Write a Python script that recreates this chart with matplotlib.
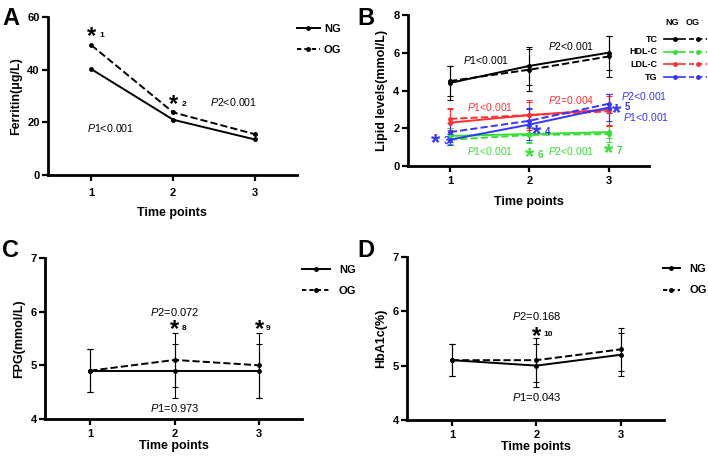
import numpy as np
import matplotlib.pyplot as plt
from matplotlib.lines import Line2D

plt.rcParams['font.family'] = ['Liberation Sans', 'DejaVu Sans']
plt.rcParams['mathtext.fontset'] = 'custom'
plt.rcParams['mathtext.rm'] = 'Liberation Sans'
plt.rcParams['mathtext.it'] = 'Liberation Sans:italic'

time_points = [1, 2, 3]

# A: ferritin
ferritin_ng = [40.2, 21.0, 13.5]
ferritin_og = [49.3, 23.8, 15.5]

# B: lipids (mean, sd)
tc_ng = [4.4, 5.3, 6.0]
tc_og = [4.5, 5.1, 5.8]
tc_ng_sd = [0.9, 1.0, 0.9]
tc_og_sd = [0.8, 1.1, 1.1]
hdl_ng = [1.6, 1.7, 1.8]
hdl_og = [1.4, 1.65, 1.7]
hdl_ng_sd = [0.4, 0.4, 0.3]
hdl_og_sd = [0.3, 0.4, 0.4]
ldl_ng = [2.3, 2.7, 3.0]
ldl_og = [2.5, 2.7, 2.9]
ldl_ng_sd = [0.7, 0.8, 0.8]
ldl_og_sd = [0.6, 0.7, 0.8]
tg_ng = [1.4, 2.2, 3.1]
tg_og = [1.8, 2.4, 3.3]
tg_ng_sd = [0.3, 0.8, 0.7]
tg_og_sd = [0.5, 0.7, 0.5]

# C: FPG
fpg_ng = [4.9, 4.9, 4.9]
fpg_og = [4.9, 5.1, 5.0]
fpg_ng_sd = [0.4, 0.5, 0.5]
fpg_og_sd = [0.4, 0.5, 0.6]

# D: HbA1c
hba_ng = [5.1, 5.0, 5.2]
hba_og = [5.1, 5.1, 5.3]
hba_ng_sd = [0.3, 0.4, 0.4]
hba_og_sd = [0.3, 0.4, 0.4]

GREEN = '#33e033'
RED = '#ff3030'
BLUE = '#3535ff'

fig = plt.figure(figsize=(7.08, 4.63), dpi=100)
axA = fig.add_axes([0.068, 0.622, 0.351, 0.341])
axB = fig.add_axes([0.576, 0.641, 0.341, 0.327])
axC = fig.add_axes([0.064, 0.095, 0.363, 0.348])
axD = fig.add_axes([0.575, 0.093, 0.363, 0.352])


def style(ax, ylim, yticks, ylabel, xpad=3, labelpad=4):
    ax.set_xlim(0.47, 3.51)
    ax.set_ylim(*ylim)
    ax.set_xticks(time_points)
    ax.set_yticks(yticks)
    for s in ['top', 'right']:
        ax.spines[s].set_visible(False)
    for s in ['left', 'bottom']:
        ax.spines[s].set_linewidth(2)
    ax.tick_params(width=1.6, length=4, labelsize=8, pad=2)
    ax.tick_params(axis='x', pad=xpad)
    for lab in ax.get_xticklabels() + ax.get_yticklabels():
        lab.set_fontweight('bold')
    ax.set_xlabel('Time points', fontsize=9, fontweight='bold', labelpad=labelpad)
    ax.set_ylabel(ylabel, fontsize=9, fontweight='bold', labelpad=4)


def star(ax, x, y, num, color='black', dx=6, dy=-5, size=6):
    ax.annotate('*', xy=(x, y), xytext=(0, -9), textcoords='offset points',
                ha='center', va='baseline', fontsize=17, fontweight='bold', color=color)
    ax.annotate(num, xy=(x, y), xytext=(dx, dy), textcoords='offset points',
                ha='left', va='baseline', fontsize=size, fontweight='bold', color=color)


def pair(ax, ng, og, color='black', ng_sd=None, og_sd=None):
    kw = dict(color=color, marker='o', markersize=2.5, lw=1.4)
    if ng_sd is None:
        ax.plot(time_points, ng, ls='-', **kw)
        ax.plot(time_points, og, ls='--', **kw)
        return
    ekw = dict(capsize=2.5, elinewidth=0.8, capthick=0.8, ecolor=color)
    ax.errorbar(time_points, ng, yerr=ng_sd, ls='-', **kw, **ekw)
    e2 = ax.errorbar(time_points, og, yerr=og_sd, **kw, **ekw)
    e2.lines[0].set_linestyle('--')


def legend(ax, x, y, hl=2.3, tp=0.6):
    handles = [Line2D([], [], color='black', lw=1.4, marker='o', markersize=2.5),
               Line2D([], [], color='black', lw=1.4, marker='o', markersize=2.5,
                      ls=(0, (2.2, 1.6)))]
    ax.legend(handles, ['NG', 'OG'], loc='upper left', bbox_to_anchor=(x, y),
              frameon=False, prop={'weight': 'bold', 'size': 8}, handlelength=hl,
              handletextpad=tp, labelspacing=1.0, borderaxespad=0, borderpad=0)


# ---- A
pair(axA, ferritin_ng, ferritin_og)
style(axA, (0, 60), [0, 20, 40, 60], 'Ferritin(μg/L)', xpad=5, labelpad=7)
legend(axA, 1.0, 0.955, hl=2.1, tp=0.35)
star(axA, 1, 55, '1')
star(axA, 2, 29, '2')
axA.text(0.94, 17.8, r'$P$1<0.001', fontsize=7.7, va='center')
axA.text(2.45, 27.7, r'$P$2<0.001', fontsize=7.7, va='center')

# ---- B
series = [('TC', tc_ng, tc_og, tc_ng_sd, tc_og_sd, 'black'),
          ('HDL-C', hdl_ng, hdl_og, hdl_ng_sd, hdl_og_sd, GREEN),
          ('LDL-C', ldl_ng, ldl_og, ldl_ng_sd, ldl_og_sd, RED),
          ('TG', tg_ng, tg_og, tg_ng_sd, tg_og_sd, BLUE)]
for name, ng, og, nsd, osd, col in series:
    pair(axB, ng, og, col, nsd, osd)
style(axB, (0, 8), [0, 2, 4, 6, 8], 'Lipid levels(mmol/L)', xpad=3, labelpad=7)

# custom legend grid for B
axB.text(1.095, 0.93, 'NG', transform=axB.transAxes, fontsize=6.5, fontweight='bold', ha='center')
axB.text(1.178, 0.93, 'OG', transform=axB.transAxes, fontsize=6.5, fontweight='bold', ha='center')
for i, (name, ng, og, nsd, osd, col) in enumerate(series):
    yy = 0.84 - i * 0.084
    axB.text(1.035, yy, name, transform=axB.transAxes, fontsize=6.5,
             fontweight='bold', ha='right', va='center')
    axB.add_line(Line2D([1.06, 1.15], [yy, yy], transform=axB.transAxes, color=col,
                        lw=1.2, clip_on=False))
    axB.plot([1.105], [yy], transform=axB.transAxes, color=col, marker='o',
             markersize=2.5, clip_on=False)
    axB.add_line(Line2D([1.165, 1.24], [yy, yy], transform=axB.transAxes, color=col,
                        lw=1.2, ls='--', dashes=(3, 2), clip_on=False))
    axB.plot([1.2], [yy], transform=axB.transAxes, color=col, marker='o',
             markersize=2.5, clip_on=False)

axB.text(1.16, 5.6, r'$P$1<0.001', fontsize=7.5, va='center')
axB.text(2.23, 6.36, r'$P$2<0.001', fontsize=7.5, va='center')
axB.text(1.22, 3.13, r'$P$1<0.001', fontsize=7.5, va='center', color=RED)
axB.text(2.23, 3.5, r'$P$2=0.004', fontsize=7.5, va='center', color=RED)
axB.text(3.16, 3.7, r'$P$2<0.001', fontsize=7.5, va='center', color=BLUE)
axB.text(3.18, 2.6, r'$P$1<0.001', fontsize=7.5, va='center', color=BLUE)
axB.text(1.22, 0.8, r'$P$1<0.001', fontsize=7.5, va='center', color=GREEN)
axB.text(2.23, 0.8, r'$P$2<0.001', fontsize=7.5, va='center', color=GREEN)
star(axB, 0.82, 1.54, '3', BLUE, size=7)
star(axB, 2.09, 2.0, '4', BLUE, size=7)
star(axB, 3.1, 3.1, '5', BLUE, dy=-2, size=7)
star(axB, 2.0, 0.8, '6', GREEN, size=7)
star(axB, 3.0, 1.0, '7', GREEN, size=7)

# ---- C
pair(axC, fpg_ng, fpg_og, 'black', fpg_ng_sd, fpg_og_sd)
style(axC, (4, 7), [4, 5, 6, 7], 'FPG(mmol/L)', xpad=3, labelpad=1)
legend(axC, 1.0, 0.955, hl=2.5, tp=0.8)
axC.text(2, 6.0, r'$P$2=0.072', fontsize=8, ha='center', va='center')
axC.text(2, 4.2, r'$P$1=0.973', fontsize=8, ha='center', va='center')
star(axC, 2, 5.77, '8', dx=5, dy=-4)
star(axC, 3, 5.77, '9', dx=5, dy=-4)

# ---- D
pair(axD, hba_ng, hba_og, 'black', hba_ng_sd, hba_og_sd)
style(axD, (4, 7), [4, 5, 6, 7], 'HbA1c(%)', xpad=3, labelpad=1)
legend(axD, 0.996, 0.955, hl=1.5, tp=0.9)
axD.text(2, 5.91, r'$P$2=0.168', fontsize=8, ha='center', va='center')
axD.text(2, 4.42, r'$P$1=0.043', fontsize=8, ha='center', va='center')
star(axD, 2, 5.64, '10', dx=5, dy=-4)

# panel letters
for lab, x, y in [('A', 0.003, 0.945), ('B', 0.505, 0.945), ('C', 0.003, 0.445), ('D', 0.505, 0.445)]:
    fig.text(x, y, lab, fontsize=17, fontweight='bold', va='baseline')

fig.savefig('out.png', dpi=100)
